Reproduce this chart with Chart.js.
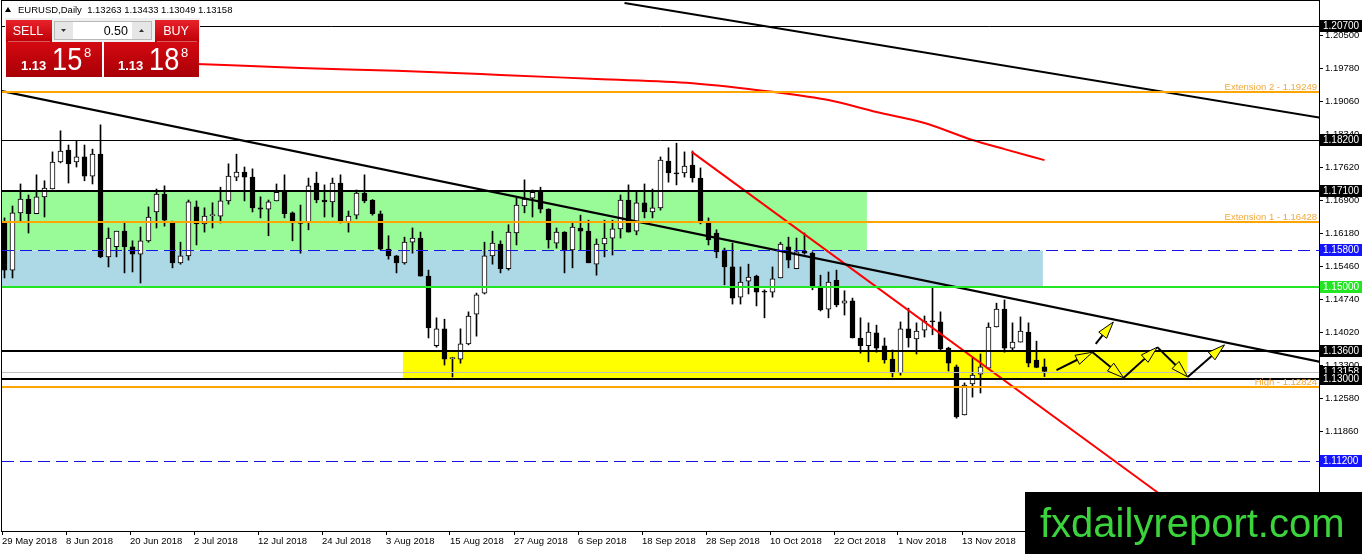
<!DOCTYPE html>
<html>
<head>
<meta charset="utf-8">
<title>EURUSD Daily</title>
<script src="https://cdn.jsdelivr.net/npm/chart.js@4.4.0/dist/chart.umd.min.js"></script>
<style>
  html, body { margin: 0; padding: 0; background: #fff; overflow: hidden; }
  canvas { display: block; }
</style>
</head>
<body>
<canvas id="priceChart" width="1362" height="554"></canvas>
<script>
// ---- data ----
const symbolName = 'EURUSD,Daily';
const lastQuote = [1.13263, 1.13433, 1.13049, 1.13158];   // O H L C of the last bar
const bidAsk = [1.13158, 1.13188];
const lotSize = 0.50;

const dateTicks = ['29 May 2018', '8 Jun 2018', '20 Jun 2018', '2 Jul 2018', '12 Jul 2018', '24 Jul 2018',
  '3 Aug 2018', '15 Aug 2018', '27 Aug 2018', '6 Sep 2018', '18 Sep 2018', '28 Sep 2018',
  '10 Oct 2018', '22 Oct 2018', '1 Nov 2018', '13 Nov 2018'];

const priceTicks = [1.2050, 1.1978, 1.1906, 1.1834, 1.1762, 1.1690, 1.1618, 1.1546,
  1.1474, 1.1402, 1.1330, 1.1258, 1.1186, 1.1114, 1.1042];

const opens = [
  1.1640, 1.1537, 1.1662, 1.1692, 1.1660, 1.1697, 1.1714, 1.1773, 1.1799, 1.1773,
  1.1784, 1.1742, 1.1790, 1.1566, 1.1588, 1.1622, 1.1588, 1.1572, 1.1601, 1.1664,
  1.1703, 1.1642, 1.1553, 1.1568, 1.1675, 1.1638, 1.1656, 1.1655, 1.1688, 1.1740,
  1.1751, 1.1740, 1.1673, 1.1670, 1.1688, 1.1707, 1.1662, 1.1642, 1.1642, 1.1727,
  1.1690, 1.1686, 1.1727, 1.1642, 1.1657, 1.1705, 1.1690, 1.1660, 1.1583, 1.1568,
  1.1553, 1.1598, 1.1607, 1.1524, 1.1372, 1.1409, 1.1344, 1.1343, 1.1376, 1.1441,
  1.1487, 1.1568, 1.1594, 1.1540, 1.1618, 1.1677, 1.1694, 1.1707, 1.1670, 1.1596,
  1.1620, 1.1581, 1.1629, 1.1622, 1.1550, 1.1594, 1.1607, 1.1627, 1.1690, 1.1622,
  1.1684, 1.1664, 1.1673, 1.1775, 1.1749, 1.1749, 1.1766, 1.1738, 1.1642, 1.1618,
  1.1581, 1.1544, 1.1478, 1.1513, 1.1524, 1.1491, 1.1489, 1.1520, 1.1588, 1.1540,
  1.1579, 1.1574, 1.1500, 1.1452, 1.1515, 1.1465, 1.1470, 1.1389, 1.1372, 1.1400,
  1.1372, 1.1343, 1.1313, 1.1409, 1.1387, 1.1406, 1.1425, 1.1424, 1.1367, 1.1326,
  1.1221, 1.1289, 1.1310, 1.1323, 1.1413, 1.1452, 1.1367, 1.1380, 1.1402, 1.1341,
  1.13263];
const highs = [
  1.1651, 1.1677, 1.1725, 1.1701, 1.1745, 1.1732, 1.1795, 1.1841, 1.1810, 1.1819,
  1.1810, 1.1801, 1.1854, 1.1629, 1.1622, 1.1642, 1.1601, 1.1631, 1.1675, 1.1714,
  1.1721, 1.1644, 1.1598, 1.1690, 1.1688, 1.1673, 1.1684, 1.1718, 1.1769, 1.1790,
  1.1762, 1.1758, 1.1697, 1.1690, 1.1725, 1.1745, 1.1664, 1.1679, 1.1738, 1.1751,
  1.1723, 1.1738, 1.1745, 1.1666, 1.1712, 1.1745, 1.1691, 1.1666, 1.1612, 1.1569,
  1.1609, 1.1629, 1.1620, 1.1537, 1.1433, 1.1430, 1.1347, 1.1409, 1.1446, 1.1487,
  1.1598, 1.1622, 1.1601, 1.1636, 1.1694, 1.1734, 1.1712, 1.1718, 1.1671, 1.1629,
  1.1621, 1.1642, 1.1657, 1.1646, 1.1605, 1.1646, 1.1646, 1.1701, 1.1723, 1.1707,
  1.1725, 1.1714, 1.1784, 1.1804, 1.1814, 1.1795, 1.1797, 1.1760, 1.1651, 1.1625,
  1.1585, 1.1596, 1.1544, 1.1550, 1.1526, 1.1494, 1.1544, 1.1598, 1.1609, 1.1607,
  1.1618, 1.1577, 1.1526, 1.1533, 1.1537, 1.1492, 1.1476, 1.1433, 1.1422, 1.1417,
  1.1389, 1.1363, 1.1424, 1.1454, 1.1422, 1.1437, 1.1498, 1.1446, 1.1369, 1.1330,
  1.1291, 1.1345, 1.1354, 1.1422, 1.1465, 1.1472, 1.1422, 1.1435, 1.1422, 1.1382,
  1.13433];
const lows = [
  1.1520, 1.1520, 1.1642, 1.1618, 1.1660, 1.1653, 1.1714, 1.1771, 1.1727, 1.1762,
  1.1732, 1.1725, 1.1564, 1.1544, 1.1566, 1.1531, 1.1533, 1.1509, 1.1598, 1.1629,
  1.1633, 1.1542, 1.1550, 1.1559, 1.1592, 1.1620, 1.1629, 1.1640, 1.1681, 1.1732,
  1.1688, 1.1664, 1.1651, 1.1612, 1.1688, 1.1651, 1.1601, 1.1574, 1.1625, 1.1684,
  1.1653, 1.1653, 1.1640, 1.1620, 1.1649, 1.1684, 1.1657, 1.1581, 1.1561, 1.1531,
  1.1550, 1.1574, 1.1524, 1.1389, 1.1369, 1.1330, 1.1304, 1.1334, 1.1374, 1.1393,
  1.1485, 1.1550, 1.1531, 1.1537, 1.1592, 1.1662, 1.1653, 1.1662, 1.1585, 1.1585,
  1.1531, 1.1542, 1.1581, 1.1553, 1.1526, 1.1566, 1.1570, 1.1607, 1.1620, 1.1614,
  1.1651, 1.1651, 1.1668, 1.1729, 1.1723, 1.1740, 1.1729, 1.1638, 1.1592, 1.1564,
  1.1505, 1.1463, 1.1463, 1.1485, 1.1459, 1.1433, 1.1478, 1.1520, 1.1542, 1.1540,
  1.1572, 1.1494, 1.1448, 1.1433, 1.1457, 1.1439, 1.1389, 1.1356, 1.1337, 1.1358,
  1.1334, 1.1304, 1.1308, 1.1369, 1.1354, 1.1391, 1.1396, 1.1363, 1.1317, 1.1214,
  1.1221, 1.1260, 1.1269, 1.1321, 1.1413, 1.1358, 1.1363, 1.1380, 1.1326, 1.1324,
  1.13049];
const closes = [
  1.1537, 1.1662, 1.1692, 1.1660, 1.1697, 1.1716, 1.1773, 1.1797, 1.1769, 1.1784,
  1.1742, 1.1790, 1.1566, 1.1607, 1.1622, 1.1588, 1.1572, 1.1601, 1.1653, 1.1703,
  1.1646, 1.1553, 1.1568, 1.1686, 1.1638, 1.1655, 1.1657, 1.1688, 1.1742, 1.1751,
  1.1740, 1.1673, 1.1670, 1.1686, 1.1707, 1.1660, 1.1640, 1.1639, 1.1721, 1.1690,
  1.1686, 1.1727, 1.1642, 1.1655, 1.1705, 1.1688, 1.1660, 1.1583, 1.1568, 1.1553,
  1.1598, 1.1607, 1.1524, 1.1411, 1.1409, 1.1343, 1.1346, 1.1376, 1.1437, 1.1483,
  1.1568, 1.1596, 1.1540, 1.1620, 1.1679, 1.1692, 1.1707, 1.1670, 1.1603, 1.1620,
  1.1581, 1.1631, 1.1622, 1.1553, 1.1594, 1.1607, 1.1627, 1.1690, 1.1620, 1.1684,
  1.1664, 1.1673, 1.1777, 1.1749, 1.1747, 1.1764, 1.1738, 1.1640, 1.1603, 1.1577,
  1.1544, 1.1476, 1.1511, 1.1522, 1.1489, 1.1489, 1.1518, 1.1594, 1.1559, 1.1577,
  1.1574, 1.1500, 1.1450, 1.1511, 1.1461, 1.1470, 1.1389, 1.1372, 1.1402, 1.1367,
  1.1341, 1.1313, 1.1409, 1.1389, 1.1404, 1.1426, 1.1424, 1.1365, 1.1334, 1.1217,
  1.1286, 1.1308, 1.1326, 1.1413, 1.1452, 1.1367, 1.1380, 1.1404, 1.1334, 1.1325,
  1.13158];

// 200-day style moving average, sampled at a few bars
const maBars = [24, 37, 49, 62, 74, 86, 96, 103, 109, 115, 121, 125, 130];
const maValues = [1.1987, 1.1978, 1.1972, 1.1963, 1.1954, 1.1945, 1.1926, 1.1908, 1.1882, 1.1858, 1.1821, 1.1801, 1.1777];

// trend lines: [bar, price] anchors
const trendLongBars = [-1, 165];
const trendLongPrices = [1.1930, 1.1335];
const trendTopBars = [77.5, 165];
const trendTopPrices = [1.2120, 1.1868];
const trendRedBars = [85.9, 146.5];
const trendRedPrices = [1.1795, 1.1022];

// horizontal levels
const thinBlackLevels = [1.20700, 1.18200];
const thickBlackLevels = [1.17100, 1.13600, 1.13000];
const blueLevels = [1.15800, 1.11200];
const greenLevels = [1.15000];
const orangeLevels = [1.19249, 1.16428, 1.12824];
const orangeNames = ['Extension 2', 'Extension 1', 'High'];

// zones: [fromBar, toBar, upperPrice, lowerPrice]
const greenZone = [-2, 107.8, 1.17100, 1.15800];
const blueZone = [-2, 129.8, 1.15800, 1.15000];
const yellowZone = [49.8, 147.8, 1.13600, 1.13000];

// projected path (bar, price)
const pathBars = [131.5, 136, 139.9, 144.1, 147.9, 152.5];
const pathPrices = [1.1319, 1.1358, 1.1302, 1.1369, 1.1304, 1.1374];
const breakoutBars = [136.4, 138.6];
const breakoutPrices = [1.1376, 1.1424];

// ---- drawing ----
const UI_FONT = '"Liberation Sans", Arial, sans-serif';
const barIdx = opens.map((_, i) => i);

function pair(bars, prices) {
  return bars.map((b, i) => ({ x: b, y: prices[i] }));
}

function drawArrow(ctx, x0, y0, x1, y1) {
    const ang = Math.atan2(y1 - y0, x1 - x0);
    const len = 17, half = 5;
    const bx = x1 - Math.cos(ang) * len, by = y1 - Math.sin(ang) * len;
    ctx.strokeStyle = '#000';
    ctx.lineWidth = 2;
    ctx.beginPath(); ctx.moveTo(x0, y0); ctx.lineTo(bx, by); ctx.stroke();
    ctx.beginPath();
    ctx.moveTo(x1, y1);
    ctx.lineTo(bx - Math.sin(ang) * half, by + Math.cos(ang) * half);
    ctx.lineTo(bx + Math.sin(ang) * half, by - Math.cos(ang) * half);
    ctx.closePath();
    ctx.fillStyle = '#ffff00';
    ctx.fill();
    ctx.lineWidth = 1;
    ctx.stroke();
}

function drawPriceTag(ctx, yy, text, bg) {
    ctx.fillStyle = bg;
    ctx.fillRect(1320, Math.round(yy) - 6, 42, 12);
    ctx.fillStyle = '#fff';
    ctx.font = '10px ' + UI_FONT;
    ctx.textAlign = 'left';
    ctx.textBaseline = 'middle';
    ctx.fillText(text, 1323, Math.round(yy) + 0.5);
}

const overlay = {
    id: 'overlay',
    beforeDatasetsDraw(chart) {
        const { ctx, chartArea: a, scales: { x, y } } = chart;
        ctx.save();
        ctx.beginPath();
        ctx.rect(a.left, a.top, a.right - a.left, a.bottom - a.top);
        ctx.clip();
        const zone = (z, color) => {
            const x0 = x.getPixelForValue(z[0]), x1 = x.getPixelForValue(z[1]);
            const y0 = y.getPixelForValue(z[2]), y1 = y.getPixelForValue(z[3]);
            ctx.fillStyle = color;
            ctx.fillRect(x0, y0, x1 - x0, y1 - y0);
        };
        zone(greenZone, '#98fb98');
        zone(blueZone, '#add8e6');
        zone(yellowZone, '#ffff00');
        ctx.restore();
    },
    afterDatasetsDraw(chart) {
        const { ctx, chartArea: a, scales: { x, y } } = chart;
        ctx.save();
        ctx.beginPath();
        ctx.rect(a.left, a.top, a.right - a.left, a.bottom - a.top);
        ctx.clip();

        const hline = (v, color, width, dash) => {
            const yy = width % 2 ? Math.round(y.getPixelForValue(v)) + 0.5 : Math.round(y.getPixelForValue(v));
            ctx.strokeStyle = color;
            ctx.lineWidth = width;
            ctx.setLineDash(dash || []);
            ctx.beginPath(); ctx.moveTo(a.left, yy); ctx.lineTo(a.right, yy); ctx.stroke();
        };

        // bid line
        hline(lastQuote[3], '#c0c0c0', 1);
        thinBlackLevels.forEach(v => hline(v, '#000', 1));
        thickBlackLevels.forEach(v => hline(v, '#000', 2));
        blueLevels.forEach(v => hline(v, '#1414e6', 1, [12, 6]));
        greenLevels.forEach(v => hline(v, '#22e622', 2));
        orangeLevels.forEach(v => hline(v, '#ffa500', 2));
        ctx.setLineDash([]);

        ctx.font = '9.5px ' + UI_FONT;
        ctx.fillStyle = '#f2a93b';
        ctx.textAlign = 'right';
        ctx.textBaseline = 'bottom';
        orangeLevels.forEach((v, i) => {
            ctx.fillText(orangeNames[i] + ' - ' + v.toFixed(5), a.right - 2, Math.round(y.getPixelForValue(v)));
        });

        for (let i = 1; i < pathBars.length; i++) {
            drawArrow(ctx, x.getPixelForValue(pathBars[i - 1]), y.getPixelForValue(pathPrices[i - 1]),
                x.getPixelForValue(pathBars[i]), y.getPixelForValue(pathPrices[i]));
        }
        drawArrow(ctx, x.getPixelForValue(breakoutBars[0]), y.getPixelForValue(breakoutPrices[0]),
            x.getPixelForValue(breakoutBars[1]), y.getPixelForValue(breakoutPrices[1]));
        ctx.restore();
    },
    afterDraw(chart) {
        const { ctx, chartArea: a, scales: { y } } = chart;
        ctx.save();

        // frame
        ctx.strokeStyle = '#000';
        ctx.lineWidth = 1;
        ctx.strokeRect(a.left - 0.5, a.top - 0.5, a.right - a.left + 1, a.bottom - a.top + 1);

        // price tags on the axis
        const tagY = v => y.getPixelForValue(v);
        thinBlackLevels.forEach(v => drawPriceTag(ctx, tagY(v), v.toFixed(5), '#000'));
        [thickBlackLevels[0], thickBlackLevels[1]].forEach(v => drawPriceTag(ctx, tagY(v), v.toFixed(5), '#000'));
        blueLevels.forEach(v => drawPriceTag(ctx, tagY(v), v.toFixed(5), '#1414ff'));
        greenLevels.forEach(v => drawPriceTag(ctx, tagY(v), v.toFixed(5), '#22e622'));
        drawPriceTag(ctx, tagY(lastQuote[3]), lastQuote[3].toFixed(5), '#000');
        drawPriceTag(ctx, tagY(thickBlackLevels[2]), thickBlackLevels[2].toFixed(5), '#000');

        // header
        ctx.fillStyle = '#000';
        ctx.beginPath(); ctx.moveTo(5, 12); ctx.lineTo(11, 12); ctx.lineTo(8, 7); ctx.closePath(); ctx.fill();
        ctx.font = '9.5px ' + UI_FONT;
        ctx.textAlign = 'left';
        ctx.textBaseline = 'alphabetic';
        ctx.fillText(symbolName + '  ' + lastQuote.map(v => v.toFixed(5)).join(' '), 18, 13);

        // one-click trading panel
        const redGrad = (y0, y1, c0, c1) => {
            const g = ctx.createLinearGradient(0, y0, 0, y1);
            g.addColorStop(0, c0); g.addColorStop(1, c1);
            return g;
        };
        ctx.fillStyle = '#f0f0f0';
        ctx.fillRect(5, 18, 195, 24);
        ctx.fillStyle = redGrad(20, 41, '#e8222a', '#c00008');
        ctx.fillRect(6, 20, 46, 22);
        ctx.fillRect(155, 20, 44, 22);
        ctx.fillStyle = '#e6e6e6';
        ctx.fillRect(54, 21, 19, 19);
        ctx.fillRect(132, 21, 20, 19);
        ctx.fillStyle = '#fff';
        ctx.fillRect(73, 21, 59, 19);
        ctx.strokeStyle = '#b8b8b8';
        ctx.strokeRect(54.5, 21.5, 97, 18);
        ctx.fillStyle = '#333';
        ctx.beginPath(); ctx.moveTo(61, 29); ctx.lineTo(66, 29); ctx.lineTo(63.5, 32); ctx.closePath(); ctx.fill();
        ctx.beginPath(); ctx.moveTo(139, 32); ctx.lineTo(144, 32); ctx.lineTo(141.5, 29); ctx.closePath(); ctx.fill();

        ctx.fillStyle = redGrad(42, 77, '#d40810', '#a80006');
        ctx.fillRect(6, 42, 96, 35);
        ctx.fillRect(104, 42, 95, 35);
        ctx.fillStyle = 'rgba(255,255,255,0.35)';
        ctx.fillRect(8, 41, 42, 1);
        ctx.fillRect(157, 41, 40, 1);

        ctx.font = '12.5px ' + UI_FONT;
        ctx.textAlign = 'center';
        ctx.textBaseline = 'middle';
        ctx.fillStyle = '#fff';
        ctx.fillText('SELL', 28, 31.5);
        ctx.fillText('BUY', 176, 31.5);
        ctx.fillStyle = '#000';
        ctx.textAlign = 'right';
        ctx.fillText(lotSize.toFixed(2), 128, 31.5);

        const drawQuote = (v, x0) => {
            const s = v.toFixed(5);
            ctx.fillStyle = '#fff';
            ctx.textAlign = 'left';
            ctx.textBaseline = 'alphabetic';
            ctx.font = 'bold 13px ' + UI_FONT;
            ctx.fillText(s.slice(0, 4), x0, 70);
            ctx.save();
            ctx.translate(x0 + 31, 70);
            ctx.scale(0.85, 1);
            ctx.font = '32px ' + UI_FONT;
            ctx.fillText(s.slice(4, 6), 0, 0);
            ctx.restore();
            ctx.font = '13px ' + UI_FONT;
            ctx.fillText(s.slice(6), x0 + 63, 57);
        };
        drawQuote(bidAsk[0], 21);
        drawQuote(bidAsk[1], 118);

        // watermark
        ctx.fillStyle = '#000';
        ctx.fillRect(1025, 492, 337, 62);
        ctx.fillStyle = '#3cd43c';
        ctx.font = '40px ' + UI_FONT;
        ctx.textAlign = 'left';
        ctx.textBaseline = 'alphabetic';
        ctx.fillText('fxdailyreport.com', 1040, 537);
        ctx.restore();
    }
};

new Chart(document.getElementById('priceChart'), {
    data: {
        datasets: [
            {
                type: 'line', label: 'MA',
                data: pair(maBars, maValues),
                borderColor: '#ff0000', borderWidth: 2, pointRadius: 0,
                cubicInterpolationMode: 'monotone', order: 0
            },
            {
                type: 'line', label: 'trend long',
                data: pair(trendLongBars, trendLongPrices),
                borderColor: '#000', borderWidth: 2, pointRadius: 0, order: 0
            },
            {
                type: 'line', label: 'trend top',
                data: pair(trendTopBars, trendTopPrices),
                borderColor: '#000', borderWidth: 2, pointRadius: 0, order: 0
            },
            {
                type: 'line', label: 'trend red',
                data: pair(trendRedBars, trendRedPrices),
                borderColor: '#ff0000', borderWidth: 2, pointRadius: 0, order: 0
            },
            {
                type: 'bar', label: 'body',
                data: barIdx.map(i => ({ x: i, y: [opens[i], closes[i]] })),
                backgroundColor: barIdx.map(i => closes[i] >= opens[i] ? '#ffffff' : '#000000'),
                borderColor: '#000', borderWidth: 1, borderSkipped: false,
                barThickness: 5, minBarLength: 1, grouped: false, order: 1
            },
            {
                type: 'bar', label: 'wick',
                data: barIdx.map(i => ({ x: i, y: [lows[i], highs[i]] })),
                backgroundColor: '#000', barThickness: 1, grouped: false, order: 2
            }
        ]
    },
    options: {
        responsive: false,
        animation: false,
        events: [],
        layout: { padding: { left: 2, top: 1, right: 0, bottom: 0 } },
        plugins: { legend: { display: false }, tooltip: { enabled: false } },
        scales: {
            x: {
                type: 'linear',
                offset: false,
                min: -0.3125,
                max: 164.3125,
                afterBuildTicks: s => { s.ticks = dateTicks.map((_, i) => ({ value: i * 8 - 0.3125 })); },
                afterFit: s => { s.height = 23; s.paddingLeft = 0; s.paddingRight = 0; },
                grid: { drawOnChartArea: false, drawTicks: true, tickLength: 4, color: '#000', offset: false },
                border: { color: '#000' },
                ticks: {
                    autoSkip: false, maxRotation: 0, minRotation: 0, align: 'start', padding: 1,
                    color: '#000', font: { family: UI_FONT, size: 9.5 },
                    callback: (v, i) => dateTicks[i]
                }
            },
            y: {
                position: 'right',
                min: 1.09679,
                max: 1.21242,
                afterBuildTicks: s => { s.ticks = priceTicks.map(v => ({ value: v })); },
                afterFit: s => { s.width = 43; s.paddingTop = 0; s.paddingBottom = 0; },
                grid: { drawOnChartArea: false, drawTicks: true, tickLength: 4, color: '#000' },
                border: { color: '#000' },
                ticks: {
                    autoSkip: false, padding: 2,
                    color: '#000', font: { family: UI_FONT, size: 9.5 },
                    callback: v => v.toFixed(5)
                }
            }
        }
    },
    plugins: [overlay]
});
</script>
</body>
</html>
